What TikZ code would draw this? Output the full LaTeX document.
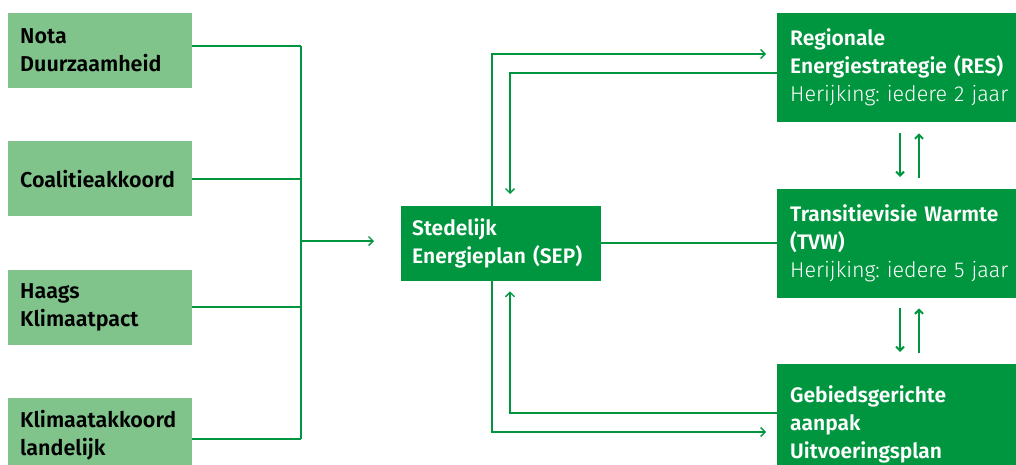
\documentclass[tikz,border=0pt]{standalone}
\usepackage{fontspec}
\setmainfont{Fira Sans}[BoldFont={Fira Sans SemiBold}]
\newfontfamily\lightfont{Fira Sans Light}
\usetikzlibrary{arrows.meta,calc}
\definecolor{lg}{HTML}{80C48C}
\definecolor{dg}{HTML}{00963F}
\frenchspacing
\newcommand\herij[1]{{\lightfont\mdseries\fontsize{21.5}{28}\selectfont #1}}
\begin{document}
\begin{tikzpicture}[x=1pt,y=-1pt,
  srcbox/.style={fill=lg, text=black, anchor=north west, inner xsep=12pt, inner ysep=0pt,
    text width=160pt, minimum height=75pt, align=left, font=\fontsize{21.5}{28}\selectfont\bfseries},
  sepbox/.style={fill=dg, text=white, anchor=north west, inner xsep=11pt, inner ysep=0pt,
    text width=178pt, minimum height=75pt, align=left, font=\fontsize{21}{28}\selectfont\bfseries},
  planbox/.style={fill=dg, text=white, anchor=north west, inner xsep=13pt, inner ysep=0pt,
    text width=300pt, minimum height=109pt, align=left, font=\fontsize{21}{28}\selectfont\bfseries},
  ln/.style={draw=dg, line width=1.3pt},
  tip/.style={-{Straight Barb[length=4.5pt,width=9pt]}},
  vtip/.style={draw=dg, line width=2pt, -{Straight Barb[length=4pt,width=8pt]}}
]
\useasboundingbox (0,0) rectangle (1016,464);
\clip (0,0) rectangle (1016,464);

\node[srcbox] (s1) at (8,13) {Nota\\Duurzaamheid};
\node[srcbox] (s2) at (8,141) {Coalitieakkoord};
\node[srcbox] (s3) at (8,270) {Haags\\Klimaatpact};
\node[srcbox] (s4) at (8,398) {Klimaatakkoord\\landelijk};

\node[sepbox] (sep) at (401,206) {Stedelijk\\Energieplan (SEP)};

\node[planbox] (res) at (777,13) {Regionale\\Energiestrategie (RES)\\\herij{Herijking: iedere 2 jaar}};
\node[planbox] (tvw) at (777,189) {Transitievisie Warmte\\(TVW)\\\herij{Herijking: iedere 5 jaar}};
\node[planbox, minimum height=120pt] (gb) at (777,364) {Gebiedsgerichte\\aanpak\\Uitvoeringsplan\\ };

\coordinate (bus) at (301,241);
\coordinate (busend) at (374,241);
\coordinate (p1) at ($(s1.north east)+(0,33)$);
\coordinate (p2) at ($(s2.north east)+(0,38)$);
\coordinate (p3) at ($(s3.north east)+(0,37)$);
\coordinate (p4) at ($(s4.north east)+(0,41)$);

\draw[ln] (p1) -- (p1 -| bus);
\draw[ln] (p2) -- (p2 -| bus);
\draw[ln] (p3) -- (p3 -| bus);
\draw[ln] (p4) -- (p4 -| bus);
\draw[ln] (p1 -| bus) -- (p4 -| bus);
\draw[ln,tip] (bus) -- (busend);

\draw[ln,tip] ($(sep.north west)+(91,0)$) |- ($(res.north west)+(-11,41)$);
\draw[ln,tip] ($(res.north west)+(0,60)$) -| ($(sep.north west)+(109,-12)$);
\draw[ln,tip] ($(sep.south west)+(91,0)$) |- ($(gb.north west)+(-11,68)$);
\draw[ln,tip] ($(gb.north west)+(0,49)$) -| ($(sep.south west)+(109,10)$);
\coordinate (q) at ($(sep.north east)+(0,37)$);
\draw[ln] (q) -- (q -| tvw.west);

\draw[vtip] ($(res.south west)+(123,11)$) -- ($(tvw.north west)+(123,-12)$);
\draw[vtip] ($(tvw.north west)+(142,-11)$) -- ($(res.south west)+(142,11)$);
\draw[vtip] ($(tvw.south west)+(123,10)$) -- ($(gb.north west)+(123,-12)$);
\draw[vtip] ($(gb.north west)+(142,-11)$) -- ($(tvw.south west)+(142,10)$);
\end{tikzpicture}
\end{document}
